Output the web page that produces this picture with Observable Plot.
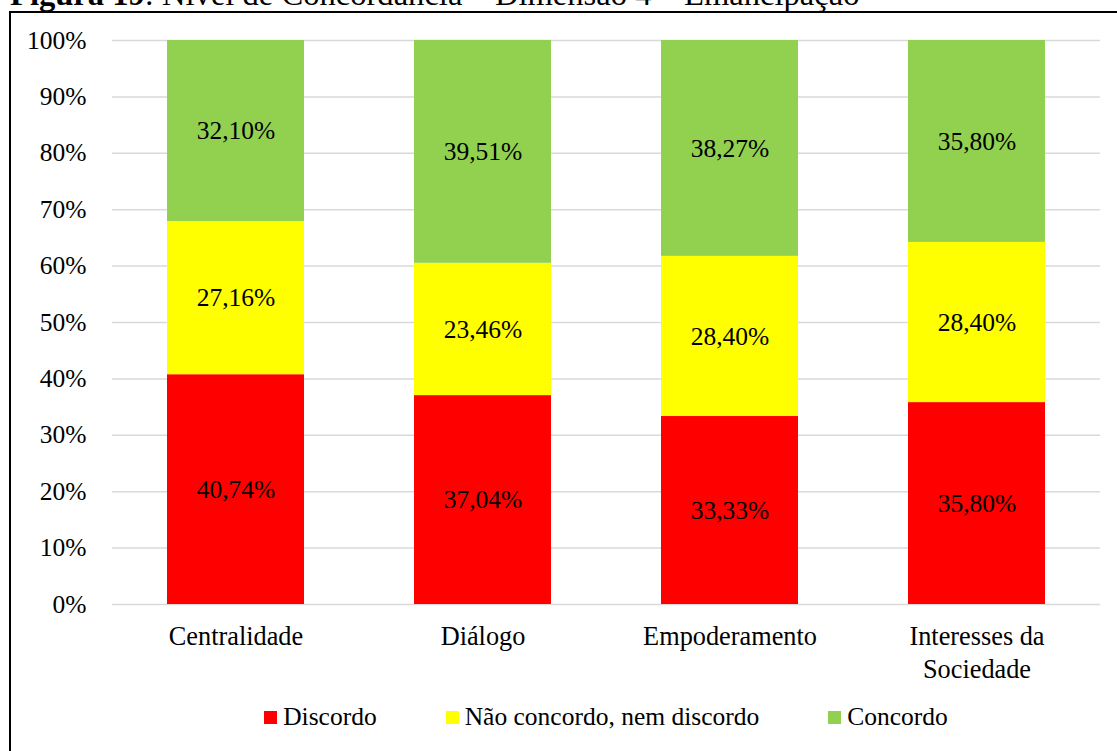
<!DOCTYPE html>
<html>
<head>
<meta charset="utf-8">
<script src="https://cdn.jsdelivr.net/npm/d3@7"></script>
<script src="https://cdn.jsdelivr.net/npm/@observablehq/plot@0.6"></script>
<style>
  html, body { margin: 0; padding: 0; background: #fff; overflow: hidden; }
  body { width: 1117px; height: 751px; position: relative; font-family: "Liberation Serif", "Times New Roman", serif; color: #000; }
  #title { position: absolute; left: 10px; top: -22px; font-size: 32.6px; line-height: 32px; white-space: nowrap; }
  #frame { position: absolute; left: 9px; top: 11px; width: 1200px; height: 800px; border: 2px solid #000; box-sizing: border-box; }
  #chart { position: absolute; left: 0; top: 0; }
  #legend { position: absolute; left: 0; width: 1212px; top: 702px; display: flex; justify-content: center; font-size: 25.5px; line-height: 30px; }
  #legend .item { display: flex; align-items: center; margin: 0 34.5px; }
  #legend .sw { width: 13px; height: 13px; margin-right: 6px; }
</style>
</head>
<body>
<div id="title"><b>Figura 19</b>: Nível de Concordância – Dimensão 4 – Emancipação</div>
<div id="frame"></div>
<div id="chart"></div>
<div id="legend"></div>
<script>
const categories = ["Centralidade", "Diálogo", "Empoderamento", "Interesses da Sociedade"];
const tickLabels = ["Centralidade", "Diálogo", "Empoderamento", "Interesses da\nSociedade"];
const series = ["Discordo", "Não concordo, nem discordo", "Concordo"];
const discordo = [40.74, 37.04, 33.33, 35.80];
const neutro = [27.16, 23.46, 28.40, 28.40];
const concordo = [32.10, 39.51, 38.27, 35.80];
const colors = ["#ff0000", "#ffff00", "#92d050"];
const yTicks = [0, 10, 20, 30, 40, 50, 60, 70, 80, 90, 100];

const seriesValues = [discordo, neutro, concordo];
const data = [];
series.forEach((s, si) => {
  categories.forEach((c, ci) => {
    data.push({category: c, series: s, value: seriesValues[si][ci]});
  });
});

const fmt = v => v.toFixed(2).replace(".", ",") + "%";
const FS = 25.5;

const chart = Plot.plot({
  width: 1117,
  height: 690,
  marginLeft: 112,
  marginRight: 17,
  marginTop: 40,
  marginBottom: 86,
  style: {fontFamily: "'Liberation Serif', 'Times New Roman', serif", fontSize: FS + "px", color: "#000", background: "transparent"},
  x: {domain: categories, paddingInner: 0.8 / 1.8, paddingOuter: 0.4 / 1.8, label: null},
  y: {domain: [0, 100], label: null},
  color: {domain: series, range: colors},
  marks: [
    Plot.ruleY(yTicks, {stroke: "#d9d9d9", strokeWidth: 1.5}),
    Plot.barY(data, {x: "category", y: "value", fill: "series", order: series}),
    Plot.text(data, Plot.stackY({x: "category", y: "value", z: "series", order: series, text: d => fmt(d.value), fill: "#000", fontSize: FS})),
    Plot.axisY({ticks: yTicks, tickFormat: d => d + "%", tickSize: 0, tickPadding: 26, label: null, fontSize: FS}),
    Plot.axisX({tickSize: 0, tickPadding: 17, tickFormat: d => tickLabels[categories.indexOf(d)], lineHeight: 1.255, label: null, fontSize: 26.3})
  ]
});
document.getElementById("chart").appendChild(chart);

const legend = document.getElementById("legend");
series.forEach((s, i) => {
  const item = document.createElement("div");
  item.className = "item";
  const sw = document.createElement("span");
  sw.className = "sw";
  sw.style.background = colors[i];
  const t = document.createElement("span");
  t.textContent = s;
  item.appendChild(sw);
  item.appendChild(t);
  legend.appendChild(item);
});
</script>
</body>
</html>
